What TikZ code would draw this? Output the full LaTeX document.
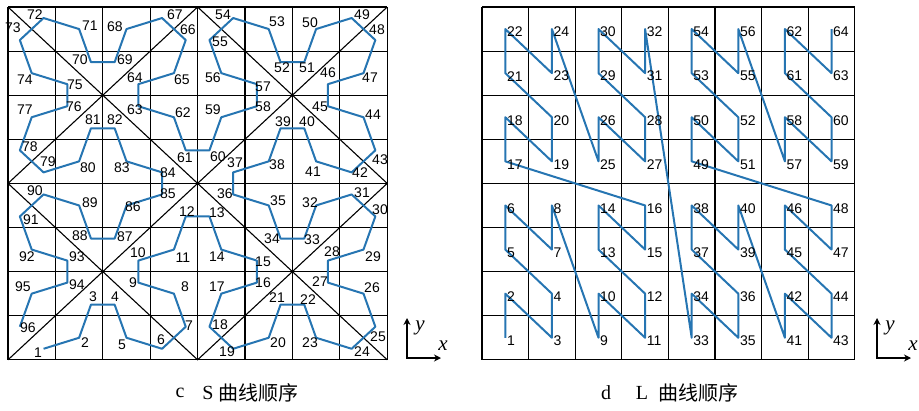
\documentclass[tikz,border=0pt]{standalone}
\usepackage{fontspec}
\setmainfont{Liberation Serif}
\newfontfamily\numfont{Liberation Sans}
\newfontfamily\cjk{Noto Sans CJK SC}
\usetikzlibrary{arrows.meta, calc}

\definecolor{curveblue}{RGB}{38,117,178}

\tikzset{
  num/.style={font=\numfont\fontsize{14}{14}\selectfont, inner sep=0pt},
  curve/.style={curveblue, line width=2pt, line join=round},
  cell/.style={black, line width=1.1pt},
  axis/.style={black, line width=2.2pt, {Stealth[length=7pt,width=7pt]}-{Stealth[length=7pt,width=7pt]}},
  axlabel/.style={font=\fontsize{21}{21}\selectfont\itshape, inner sep=0pt},
  caption/.style={font=\fontsize{20}{20}\selectfont, inner sep=0pt},
}

\begin{document}
\begin{tikzpicture}[x=1pt, y=-1pt]
    \useasboundingbox (0,0) rectangle (919,410);

    % 왼쪽 격자 (S 곡선)
    \begin{scope}[shift={(8,7)}, x=47.4pt, y=-44.1pt]
        \foreach \i in {0,...,8}
            \draw[cell] (\i,0) -- (\i,8) (0,\i) -- (8,\i);
        \draw[cell] (0,0) -- (8,8) (8,0) -- (0,8);
        \draw[cell] (4,0) -- (8,4) -- (4,8) -- (0,4) -- cycle;

        % 사분면마다 같은 모양의 꼭짓점
        \foreach \qx/\qy/\sh/\base in {0/4/12/85, 4/4/6/13, 4/0/0/37, 0/0/18/61}
            \foreach \k/\pa/\pb in {0/0.75/3.75, 1/1.5/3.5, 2/1.75/2.75, 3/2.25/2.75,
                    4/2.5/3.5, 5/3.25/3.75, 6/3.75/3.25, 7/3.5/2.5, 8/2.75/2.25,
                    9/2.75/1.75, 10/3.5/1.5, 11/3.75/0.75, 12/3.25/0.25, 13/2.5/0.5,
                    14/2.25/1.25, 15/1.75/1.25, 16/1.5/0.5, 17/0.75/0.25, 18/0.25/0.75,
                    19/0.5/1.5, 20/1.25/1.75, 21/1.25/2.25, 22/0.5/2.5, 23/0.25/3.25}{
                \pgfmathtruncatemacro\n{mod(mod(\k+\sh,24)+\base-1,96)+1}
                \coordinate (s\n) at (\qx+\pa,\qy+\pb);
            }
        \draw[curve] (s1) \foreach \i in {2,...,96}{ -- (s\i)};
    \end{scope}

    % S 곡선 번호
    \foreach \n/\x/\y in {1/38/353, 2/85/343, 3/93/297, 4/115/297, 5/122/345, 6/161/340,
            7/189/326, 8/185/287, 9/133/283, 10/138/253, 11/183/258, 12/187/212,
            13/217/213, 14/217/257, 15/263/262, 16/263/283, 17/217/287, 18/220/325,
            19/227/352, 20/278/343, 21/277/298, 22/308/300, 23/310/343, 24/362/352,
            25/378/337, 26/372/288, 27/320/282, 28/332/252, 29/373/257, 30/380/210,
            31/362/193, 32/310/203, 33/312/240, 34/272/239, 35/278/201, 36/225/194,
            37/235/163, 38/277/165, 39/283/122, 40/307/122, 41/313/172, 42/360/173,
            43/380/160, 44/373/115, 45/320/107, 46/328/73, 47/370/78, 48/377/30,
            49/362/15, 50/310/23, 51/307/68, 52/282/68, 53/277/22, 54/223/15,
            55/220/42, 56/213/78, 57/263/87, 58/263/107, 59/213/110, 60/218/157,
            61/185/158, 62/183/113, 63/135/110, 64/135/78, 65/182/80, 66/188/30,
            67/175/15, 68/115/27, 69/125/60, 70/80/60, 71/90/26, 72/35/15,
            73/13/28, 74/25/80, 75/75/85, 76/74/107, 77/25/110, 78/30/147,
            79/48/162, 80/88/168, 81/93/120, 82/115/120, 83/122/168, 84/168/173,
            85/168/194, 86/133/207, 87/125/237, 88/80/236, 89/90/203, 90/35/191,
            91/31/220, 92/27/257, 93/77/257, 94/77/285, 95/23/287, 96/28/328}
        \node[num] (sn\n) at (\x,\y) {\n};

    % 오른쪽 격자 (L 곡선)
    \begin{scope}[shift={(482,7)}, x=46.6pt, y=-44.1pt]
        \foreach \i in {0,...,8}
            \draw[cell] (\i,0) -- (\i,8) (0,\i) -- (8,\i);
        \foreach \n in {1,...,64}{
            \pgfmathtruncatemacro\cx{mod(floor((\n-1)/2),2)+2*mod(floor((\n-1)/8),2)+4*mod(floor((\n-1)/32),2)}
            \pgfmathtruncatemacro\cy{mod(\n-1,2)+2*mod(floor((\n-1)/4),2)+4*mod(floor((\n-1)/16),2)}
            \coordinate (l\n) at (\cx+0.5,7.5-\cy);
        }
        \draw[curve] (l1) \foreach \i in {2,...,64}{ -- (l\i)};
        \foreach \n in {1,...,64}
            \node[num, anchor=west, xshift=1.5pt, yshift=-3pt] (ln\n) at (l\n) {\n};
    \end{scope}

    % 좌표축
    \coordinate (ly) at (407,318);
    \coordinate (lo) at (407,358);
    \coordinate (lx) at (441,358);
    \draw[axis] (ly) -- (lo) -- (lx);
    \node[axlabel] (lyl) at (420,328) {y};
    \node[axlabel] (lxl) at (443,346) {x};

    \coordinate (ry) at (877,318);
    \coordinate (ro) at (877,358);
    \coordinate (rx) at (911,358);
    \draw[axis] (ry) -- (ro) -- (rx);
    \node[axlabel] (ryl) at (890,328) {y};
    \node[axlabel] (rxl) at (913,346) {x};

    % 캡션
    \node[caption] (capc) at (180,393) {c};
    \node[caption] (caps) at (208,393) {S};
    \node[caption, anchor=west] (capt) at (218,393) {\cjk 曲线顺序};
    \node[caption] (capd) at (606,393) {d};
    \node[caption] (capl) at (642,393) {L};
    \node[caption, anchor=west] (capr) at (658,393) {\cjk 曲线顺序};
\end{tikzpicture}
\end{document}
